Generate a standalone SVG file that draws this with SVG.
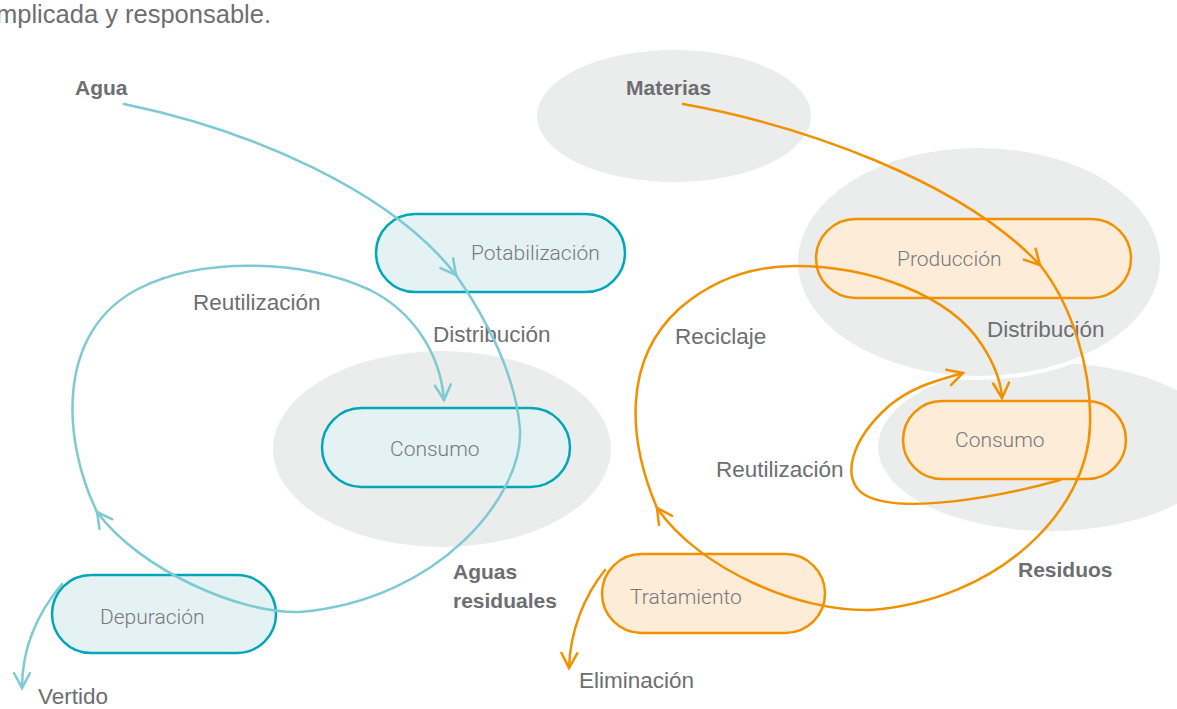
<svg xmlns="http://www.w3.org/2000/svg" width="1177" height="709" viewBox="0 0 1177 709">
  <defs>
    <style>
      .zone { fill: #ebecec; }
      .water { fill: #e4f2f4; stroke: #00a7b6; stroke-width: 2.5; }
      .mat { fill: #fdecd8; stroke: #f29100; stroke-width: 2.5; }
      .node-label { font-family: Roboto, "Liberation Sans", sans-serif; font-weight: 300; font-size: 21px; fill: #77787b; }
      .label { font-family: "Liberation Sans", Arial, sans-serif; font-size: 22.5px; fill: #6d6e71; }
      .bold { font-weight: bold; font-size: 21px; }
      .intro { font-size: 25.5px; }
      .flow-w { fill: none; stroke: #7ecad2; stroke-width: 2.5; stroke-linecap: round; }
      .flow-o { fill: none; stroke: #f29100; stroke-width: 2.5; stroke-linecap: round; }
    </style>
    <marker id="arrow-w" markerUnits="userSpaceOnUse" markerWidth="20" markerHeight="20" refX="0" refY="0" orient="auto" overflow="visible">
      <path d="M-15,-8 L0,0 L-15,8" fill="none" stroke="#7ecad2" stroke-width="2.5" stroke-linecap="round" stroke-linejoin="miter"/>
    </marker>
    <marker id="arrow-o" markerUnits="userSpaceOnUse" markerWidth="20" markerHeight="20" refX="0" refY="0" orient="auto" overflow="visible">
      <path d="M-15,-8 L0,0 L-15,8" fill="none" stroke="#f29100" stroke-width="2.5" stroke-linecap="round" stroke-linejoin="miter"/>
    </marker>
  </defs>

  <rect width="1177" height="709" fill="#ffffff"/>

  <!-- background zones -->
  <g id="zones">
    <ellipse class="zone" cx="442" cy="449" rx="169" ry="98"/>
    <ellipse class="zone" cx="674" cy="116" rx="137" ry="66"/>
    <ellipse class="zone" cx="1050" cy="447" rx="172" ry="84"/>
    <ellipse class="zone" cx="979" cy="262" rx="183" ry="116" stroke="#ffffff" stroke-width="4"/>
  </g>

  <!-- intro sentence tail -->
  <text class="label intro" x="271" y="23" text-anchor="end">implicada y responsable.</text>

  <!-- water cycle nodes -->
  <g id="potabilizacion">
    <rect class="water" x="376" y="214" width="249" height="78" rx="39"/>
    <text class="node-label" x="471" y="260">Potabilización</text>
  </g>
  <g id="consumo-agua">
    <rect class="water" x="322" y="408" width="248" height="79" rx="39.5"/>
    <text class="node-label" x="390" y="456">Consumo</text>
  </g>
  <g id="depuracion">
    <rect class="water" x="52" y="575" width="224" height="78" rx="39"/>
    <text class="node-label" x="100" y="624">Depuración</text>
  </g>

  <!-- materials cycle nodes -->
  <g id="produccion">
    <rect class="mat" x="816" y="219" width="315" height="79" rx="39.5"/>
    <text class="node-label" x="897" y="266">Producción</text>
  </g>
  <g id="consumo-materias">
    <rect class="mat" x="903" y="401" width="223" height="78" rx="39"/>
    <text class="node-label" x="955" y="447">Consumo</text>
  </g>
  <g id="tratamiento">
    <rect class="mat" x="602" y="554" width="223" height="79" rx="39.5"/>
    <text class="node-label" x="630" y="604">Tratamiento</text>
  </g>

  <!-- flow labels -->
  <g id="labels">
    <text class="label bold" x="75" y="95">Agua</text>
    <text class="label bold" x="626" y="95">Materias</text>
    <text class="label" x="193" y="310">Reutilización</text>
    <text class="label" x="433" y="342">Distribución</text>
    <text class="label bold" x="453" y="579">Aguas</text>
    <text class="label bold" x="453" y="608">residuales</text>
    <text class="label" x="38" y="704">Vertido</text>
    <text class="label" x="675" y="344">Reciclaje</text>
    <text class="label" x="987" y="337">Distribución</text>
    <text class="label" x="716" y="477">Reutilización</text>
    <text class="label bold" x="1018" y="577">Residuos</text>
    <text class="label" x="579" y="688">Eliminación</text>
  </g>

  <!-- connectors -->
  <g id="connectors">
    <!-- water -->
    <path class="flow-w" marker-end="url(#arrow-w)" d="M124,104 C250,130 390,190 456,275"/>
    <path class="flow-w" marker-end="url(#arrow-w)" d="M456,275 C486,318 516,375 520,430 C523,495 440,600 300,612 C240,614 140,570 97,512"/>
    <path class="flow-w" marker-end="url(#arrow-w)" d="M97,512 C62,440 55,330 140,288 C200,258 300,258 370,290 C410,310 440,350 444,400"/>
    <path class="flow-w" marker-end="url(#arrow-w)" d="M62,584 C40,610 22,645 22,688"/>
    <!-- materials -->
    <path class="flow-o" marker-end="url(#arrow-o)" d="M683,104 C800,125 960,180 1040,265"/>
    <path class="flow-o" marker-end="url(#arrow-o)" d="M1040,265 C1072,305 1092,370 1090,425 C1088,510 1000,600 870,610 C800,612 700,570 657,508"/>
    <path class="flow-o" marker-end="url(#arrow-o)" d="M657,508 C628,440 622,360 680,308 C715,278 755,266 795,266 C870,266 950,295 982,345 C995,365 1001,382 1002,398"/>
    <path class="flow-o" marker-end="url(#arrow-o)" d="M1060,480 C1000,497 900,515 865,495 C840,480 850,440 890,405 C915,385 940,380 963,373"/>
    <path class="flow-o" marker-end="url(#arrow-o)" d="M605,570 C585,595 570,630 569,668"/>
  </g>
</svg>
